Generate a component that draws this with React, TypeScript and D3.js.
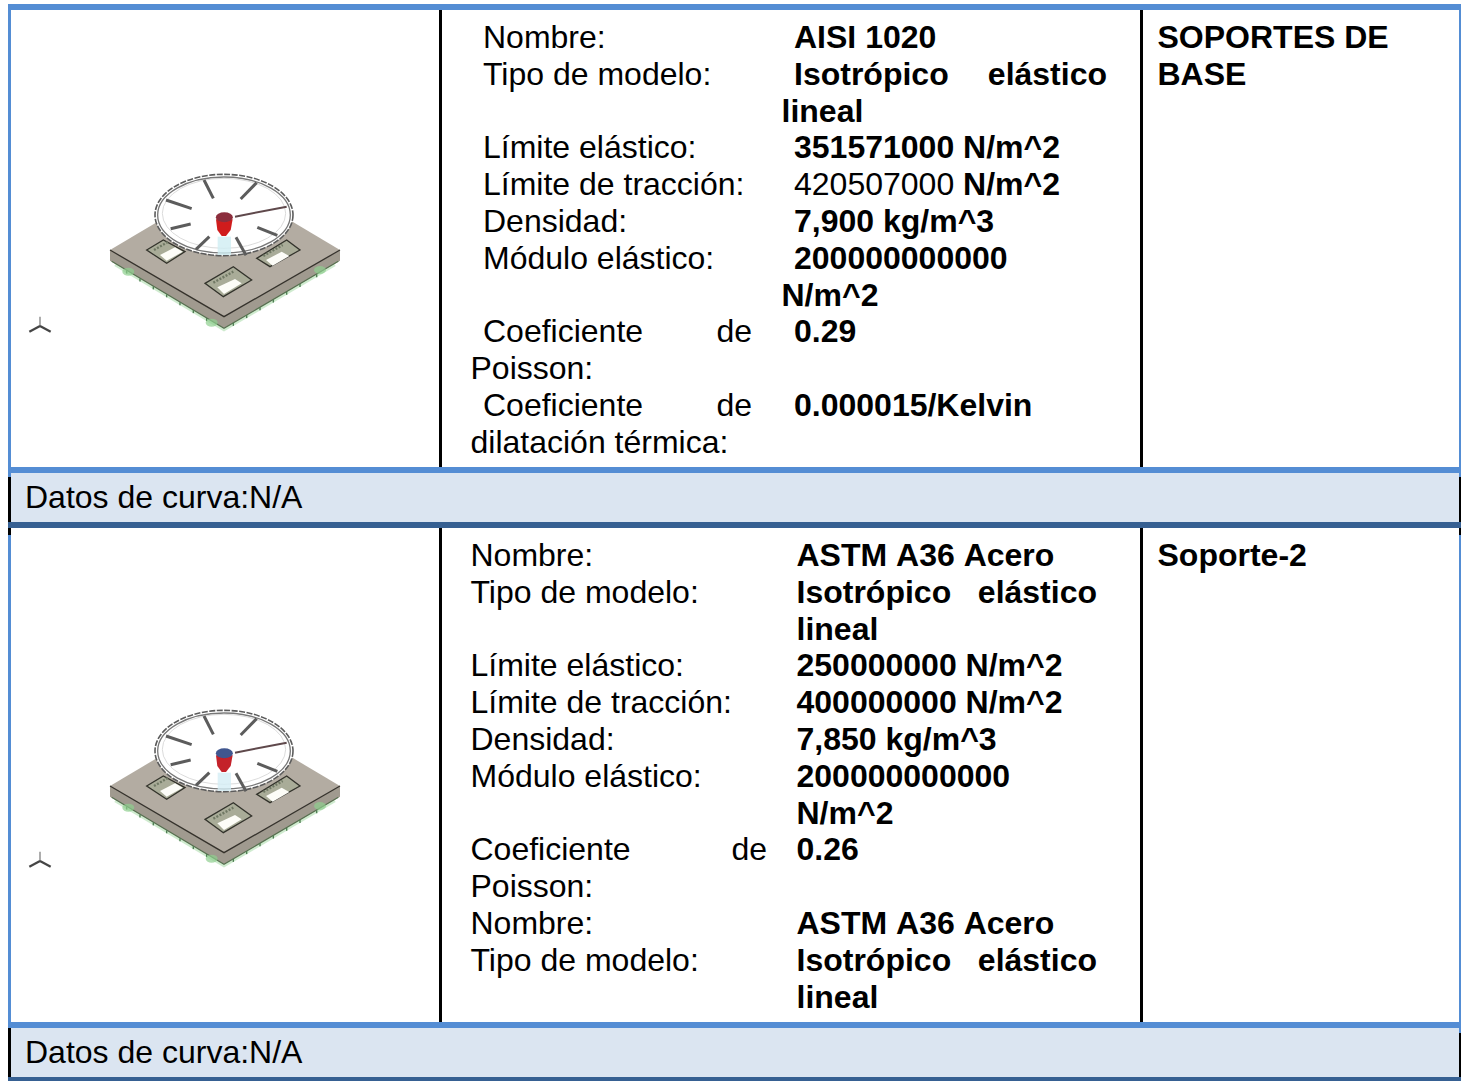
import React from "react";
import * as d3 from "d3";

const W = 1461, H = 1081;

// ---- table text
const row1Labels = ["Nombre:", "Tipo de modelo:", "", "Límite elástico:", "Límite de tracción:", "Densidad:", "Módulo elástico:", "", "", "Poisson:", "", "dilatación térmica:"];
const row1Values = ["AISI 1020", "", "lineal", "351571000 N/m^2", "", "7,900 kg/m^3", "200000000000", "N/m^2", "0.29", "", "0.000015/Kelvin", ""];
const row2Labels = ["Nombre:", "Tipo de modelo:", "", "Límite elástico:", "Límite de tracción:", "Densidad:", "Módulo elástico:", "", "", "Poisson:", "Nombre:", "Tipo de modelo:", ""];
const row2Values = ["ASTM A36 Acero", "", "lineal", "250000000 N/m^2", "400000000 N/m^2", "7,850 kg/m^3", "200000000000", "N/m^2", "0.26", "", "ASTM A36 Acero", "", "lineal"];
const curveLabel = "Datos de curva:N/A";
const row1Titles = ["SOPORTES DE", "BASE"];
const row2Titles = ["Soporte-2"];

// ---- illustration outline, in units of a 3x view
const plateTop: [number, number][] = [[330, 360], [675, 155], [1020, 360], [672, 560]];
const plateBottom: [number, number][] = [[330, 392], [672, 595], [1020, 392], [1020, 360], [672, 560], [330, 360]];
const holes: [number, number][][] = [
  [[440, 360], [490, 330], [555, 365], [500, 400]],
  [[770, 385], [860, 330], [900, 360], [810, 410]],
  [[615, 460], [700, 410], [755, 450], [670, 500]],
];
const slots: [number, number][][] = [
  [[480, 375], [525, 352], [548, 365], [500, 392]],
  [[798, 390], [845, 365], [868, 378], [818, 407]],
  [[652, 472], [705, 447], [725, 460], [672, 492]],
];
const stripes: [number, number, number, number][] = [
  [462, 360, 505, 335], [790, 378, 848, 345], [640, 458, 700, 425],
];
const spokes: [number, number, number, number][] = [
  [612, 150, 640, 205], [770, 158, 722, 207], [498, 210, 575, 236], [512, 296, 572, 282],
  [628, 320, 588, 358], [772, 292, 832, 316], [708, 322, 738, 376],
];
const teethLeft = [380, 420, 460, 500, 540, 580, 620];
const teethRight = [700, 740, 780, 820, 860, 900, 950];

const sx = d3.scaleLinear().domain([0, 3]).range([0, 1]);
const lineY = (first: number) => d3.scaleLinear().domain([0, 1]).range([first, first + 36.8]);

function pts(p: [number, number][], y: (v: number) => number) {
  return p.map(([a, b]) => `${sx(a)},${y(b)}`).join(" ");
}

function Model({ top, hub, hubTop, leg }: { top: number; hub: string; hubTop: string; leg: string }) {
  const y = d3.scaleLinear().domain([0, 3]).range([top, top + 1]);
  const cx = sx(672), cy = y(255);
  const edgeY = (a: number) => a <= 672 ? y(392 + (a - 330) * (203 / 342)) : y(595 - (a - 672) * (203 / 348));
  return (
    <g filter="url(#soft)">
      <polyline points={pts([[345, 405], [672, 600], [1005, 405]], y)} fill="none" stroke="#9fd89f" strokeWidth={2.6} opacity={0.5} />
      <polygon points={pts(plateBottom, y)} fill="#a09a8f" />
      <polyline points={pts([[335, 394], [672, 595], [1015, 394]], y)} fill="none" stroke="#56704f" strokeWidth={1.1} />
      {[...teethLeft, ...teethRight].map((a) => (
        <line key={a} x1={sx(a)} x2={sx(a)} y1={edgeY(a)} y2={edgeY(a) + 3} stroke="#4f7f52" strokeWidth={1.4} />
      ))}
      <ellipse cx={sx(385)} cy={y(425)} rx={6} ry={4} fill="#8fcf8f" opacity={0.7} />
      <ellipse cx={sx(960)} cy={y(420)} rx={6} ry={4} fill="#8fcf8f" opacity={0.7} />
      <ellipse cx={sx(635)} cy={y(578)} rx={6} ry={4} fill="#8fcf8f" opacity={0.7} />
      <polygon points={pts(plateTop, y)} fill="#b3aca2" />
      <polyline points={pts([[330, 360], [672, 560], [1020, 360]], y)} fill="none" stroke="#35322c" strokeWidth={1.3} />
      {holes.map((h, i) => <polygon key={i} points={pts(h, y)} fill="#a9ac98" stroke="#33332c" strokeWidth={1.3} />)}
      {stripes.map((s, i) => (
        <line key={i} x1={sx(s[0])} y1={y(s[1])} x2={sx(s[2])} y2={y(s[3])} stroke="#6f7864" strokeWidth={2.4} strokeDasharray="2 1.5" />
      ))}
      {slots.map((h, i) => <polygon key={i} points={pts(h, y)} fill="#fdfdf8" />)}
      <ellipse cx={cx} cy={cy} rx={sx(207)} ry={sx(122)} fill="#fff" stroke="#5c5c5c" strokeWidth={1.6} strokeDasharray="6 1.5" />
      <ellipse cx={cx} cy={cy} rx={sx(199)} ry={sx(114)} fill="none" stroke="#777" strokeWidth={1.3} />
      <ellipse cx={cx} cy={y(250)} rx={sx(185)} ry={sx(105)} fill="none" stroke="#d2d2d2" strokeWidth={0.8} />
      {spokes.map((s, i) => (
        <line key={i} x1={sx(s[0])} y1={y(s[1])} x2={sx(s[2])} y2={y(s[3])} stroke="#5c5c5c" strokeWidth={3} />
      ))}
      <line x1={sx(705)} y1={y(260)} x2={sx(860)} y2={y(230)} stroke="#5f484c" strokeWidth={2} />
      <rect x={sx(653)} y={y(320)} width={sx(40)} height={sx(55)} fill={leg} opacity={0.8} />
      <path d={`M${sx(648)},${y(268)} L${sx(698)},${y(268)} L${sx(692)},${y(300)} L${sx(678)},${y(318)} L${sx(665)},${y(318)} L${sx(652)},${y(300)} Z`} fill={hub} />
      <ellipse cx={sx(673)} cy={y(262)} rx={8.5} ry={5} fill={hubTop} />
    </g>
  );
}

function Triad({ top }: { top: number }) {
  const y = d3.scaleLinear().domain([0, 3]).range([top, top + 1]);
  return (
    <g stroke="#444" filter="url(#soft)" fill="none">
      <line x1={sx(120)} y1={y(560)} x2={sx(120)} y2={y(588)} strokeWidth={1.6} stroke="#999" />
      <line x1={sx(120)} y1={y(588)} x2={sx(88)} y2={y(605)} strokeWidth={2.2} />
      <line x1={sx(120)} y1={y(588)} x2={sx(152)} y2={y(605)} strokeWidth={2.2} />
    </g>
  );
}

const txt = { fontFamily: "'Liberation Sans', Arial, sans-serif", fontSize: 32, fill: "#000" };
const bold = { ...txt, fontWeight: 700 };

function Row({ labels, values, first, labelX, valueX, sublineX }: { labels: string[]; values: string[]; first: number; labelX: number; valueX: number; sublineX: number }) {
  const y = lineY(first);
  return (
    <g>
      {labels.map((l, i) => l && (
        <text key={"l" + i} x={l === "Poisson:" || l.startsWith("dilat") ? 470.5 : labelX} y={y(i)} {...txt}>{l}</text>
      ))}
      {values.map((v, i) => v && (
        <text key={"v" + i} x={v === "lineal" || v === "N/m^2" ? sublineX : valueX} y={y(i)} style={v.startsWith("ASTM") ? { fontKerning: "none" } : undefined} {...bold}>{v}</text>
      ))}
    </g>
  );
}

export default function App() {
  const y1 = lineY(48);
  const y2 = lineY(566);
  const blue = "#548dd4", dark = "#366092", light = "#dbe5f1";
  return (
    <svg width={W} height={H} viewBox={`0 0 ${W} ${H}`} style={{ position: "absolute", left: 0, top: 0, background: "#fff" }}>
      <defs>
        <filter id="soft" x="-10%" y="-10%" width="120%" height="120%"><feGaussianBlur stdDeviation="0.7" /></filter>
      </defs>

      {/* body cell separators and outer frame */}
      <rect x={439} y={9} width={3} height={1013} fill="#000" />
      <rect x={1140} y={9} width={3} height={1013} fill="#000" />
      <rect x={8} y={4} width={3} height={473} fill={blue} />
      <rect x={8} y={535} width={3} height={490} fill={blue} />
      <rect x={1459} y={4} width={2} height={474} fill={blue} />
      <rect x={1459} y={535} width={2} height={498} fill={blue} />

      {/* curve rows */}
      <rect x={11} y={473} width={1448} height={49} fill={light} />
      <rect x={11} y={1028} width={1448} height={49} fill={light} />
      <rect x={8} y={477} width={3} height={58} fill="#000" />
      <rect x={8} y={1028} width={3} height={53} fill="#000" />
      <rect x={1459} y={477} width={2} height={58} fill="#000" />
      <rect x={1459} y={1033} width={2} height={48} fill="#000" />

      <rect x={8} y={4} width={1453} height={6} fill={blue} />
      <rect x={8} y={467} width={1453} height={6} fill={blue} />
      <rect x={8} y={522} width={1453} height={6} fill={dark} />
      <rect x={8} y={1022} width={1453} height={6} fill={blue} />
      <rect x={8} y={1077} width={1453} height={4} fill={dark} />

      <Model top={130} hub="#d01f1f" hubTop="#8c2f3c" leg="#cfeef2" />
      <Model top={666} hub="#c4202a" hubTop="#3f568f" leg="#d5eef5" />
      <Triad top={130} />
      <Triad top={665} />

      <Row labels={row1Labels} values={row1Values} first={48} labelX={483} valueX={794} sublineX={781.5} />
      <text x={794} y={y1(1)} {...bold}>Isotrópico</text>
      <text x={1107} y={y1(1)} textAnchor="end" {...bold}>elástico</text>
      <text x={794} y={y1(4)} {...txt}>420507000 <tspan fontWeight={700}>N/m^2</tspan></text>
      <text x={483} y={y1(8)} {...txt}>Coeficiente</text>
      <text x={752} y={y1(8)} textAnchor="end" {...txt}>de</text>
      <text x={483} y={y1(10)} {...txt}>Coeficiente</text>
      <text x={752} y={y1(10)} textAnchor="end" {...txt}>de</text>
      {row1Titles.map((t, i) => <text key={t} x={1157.5} y={y1(i)} {...bold}>{t}</text>)}

      <Row labels={row2Labels} values={row2Values} first={566} labelX={470.5} valueX={796.5} sublineX={796.5} />
      <text x={796.5} y={y2(1)} {...bold}>Isotrópico</text>
      <text x={1097} y={y2(1)} textAnchor="end" {...bold}>elástico</text>
      <text x={796.5} y={y2(11)} {...bold}>Isotrópico</text>
      <text x={1097} y={y2(11)} textAnchor="end" {...bold}>elástico</text>
      <text x={470.5} y={y2(8)} {...txt}>Coeficiente</text>
      <text x={767} y={y2(8)} textAnchor="end" {...txt}>de</text>
      {row2Titles.map((t, i) => <text key={t} x={1157.5} y={y2(i)} {...bold}>{t}</text>)}

      <text x={25} y={508} {...txt}>{curveLabel}</text>
      <text x={25} y={1063} {...txt}>{curveLabel}</text>
    </svg>
  );
}
